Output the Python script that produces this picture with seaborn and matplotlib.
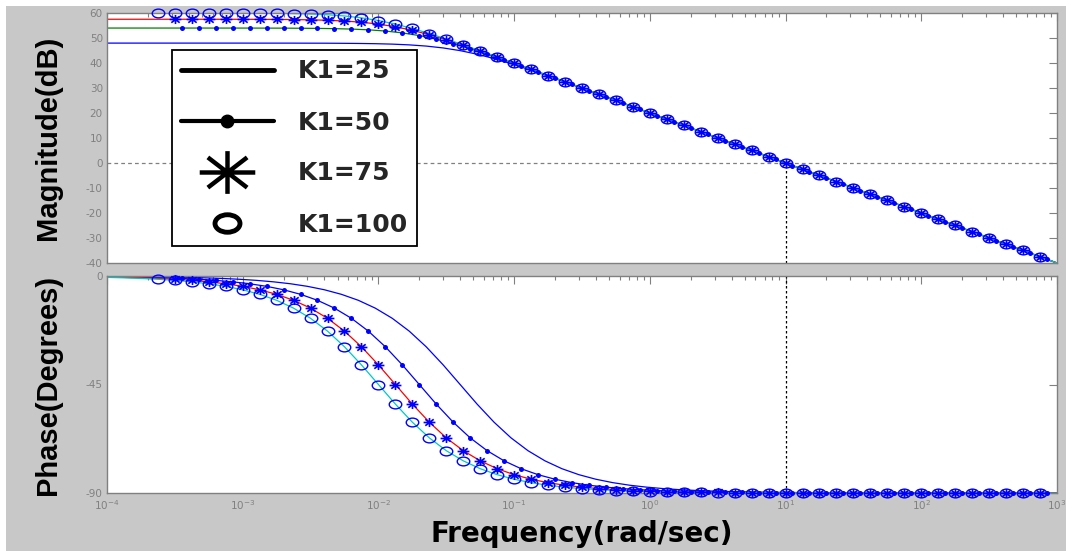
import numpy as np
import matplotlib
matplotlib.use("Agg")
import matplotlib.pyplot as plt
import seaborn as sns
from matplotlib.lines import Line2D
from matplotlib.path import Path
from matplotlib.transforms import Affine2D
from matplotlib.ticker import FixedLocator, NullFormatter, LogFormatterSciNotation
from matplotlib.patches import Rectangle

# ---------------- data ----------------
k1_labels = ["K1=25", "K1=50", "K1=75", "K1=100"]

# log10 of frequency (rad/sec) of the sampled points of each curve
log_w_k25 = [-4.023, -3.898, -3.773, -3.648, -3.523, -3.398, -3.273, -3.148, -3.023,
             -2.898, -2.773, -2.648, -2.523, -2.398, -2.273, -2.148, -2.023,
             -1.898, -1.773, -1.648, -1.523, -1.398, -1.273, -1.148, -1.023,
             -0.898, -0.773, -0.648, -0.523, -0.398, -0.273, -0.148, -0.023,
             0.102, 0.227, 0.352, 0.477, 0.602, 0.727, 0.852, 0.977,
             1.102, 1.227, 1.352, 1.477, 1.602, 1.727, 1.852, 1.977,
             2.102, 2.227, 2.352, 2.477, 2.602, 2.727, 2.852, 2.977, 3.102]
log_w_k50 = [-4.074, -3.949, -3.824, -3.699, -3.574, -3.449, -3.324, -3.199, -3.074,
             -2.949, -2.824, -2.699, -2.574, -2.449, -2.324, -2.199, -2.074,
             -1.949, -1.824, -1.699, -1.574, -1.449, -1.324, -1.199, -1.074,
             -0.949, -0.824, -0.699, -0.574, -0.449, -0.324, -0.199, -0.074,
             0.051, 0.176, 0.301, 0.426, 0.551, 0.676, 0.801, 0.926,
             1.051, 1.176, 1.301, 1.426, 1.551, 1.676, 1.801, 1.926,
             2.051, 2.176, 2.301, 2.426, 2.551, 2.676, 2.801, 2.926, 3.051]
log_w_k75_k100 = [-4.0, -3.875, -3.75, -3.625, -3.5, -3.375, -3.25, -3.125, -3.0,
                  -2.875, -2.75, -2.625, -2.5, -2.375, -2.25, -2.125, -2.0,
                  -1.875, -1.75, -1.625, -1.5, -1.375, -1.25, -1.125, -1.0,
                  -0.875, -0.75, -0.625, -0.5, -0.375, -0.25, -0.125, 0.0,
                  0.125, 0.25, 0.375, 0.5, 0.625, 0.75, 0.875, 1.0,
                  1.125, 1.25, 1.375, 1.5, 1.625, 1.75, 1.875, 2.0,
                  2.125, 2.25, 2.375, 2.5, 2.625, 2.75, 2.875, 3.0]

# magnitude (dB)
mag_k25 = [47.96, 47.96, 47.96, 47.96, 47.96, 47.96, 47.96, 47.96, 47.96,
           47.95, 47.95, 47.95, 47.93, 47.92, 47.88, 47.82, 47.72, 47.55, 47.25,
           46.77, 46.02, 44.95, 43.52, 41.77, 39.75, 37.55, 35.22, 32.82, 30.38,
           27.92, 25.43, 22.95, 20.45, 17.95, 15.46, 12.96, 10.46, 7.96, 5.46,
           2.96, 0.46, -2.04, -4.54, -7.04, -9.54, -12.04, -14.54, -17.04, -19.54,
           -22.04, -24.54, -27.04, -29.54, -32.04, -34.54, -37.04, -39.54, -42.04]
mag_k50 = [53.98, 53.98, 53.98, 53.98, 53.98, 53.98, 53.98,
           53.97, 53.97, 53.97, 53.95, 53.94, 53.90, 53.84, 53.74, 53.57, 53.27,
           52.79, 52.04, 50.97, 49.54, 47.79, 45.77, 43.57, 41.24, 38.84, 36.40,
           33.94, 31.46, 28.97, 26.47, 23.97, 21.48, 18.98, 16.48, 13.98, 11.48,
           8.98, 6.48, 3.98, 1.48, -1.02, -3.52, -6.02, -8.52, -11.02, -13.52,
           -16.02, -18.52, -21.02, -23.52, -26.02, -28.52, -31.02, -33.52, -36.02,
           -38.52, -41.02]
mag_k75 = [57.5, 57.5, 57.5, 57.5, 57.5, 57.5,
           57.49, 57.49, 57.48, 57.46, 57.42, 57.37, 57.26, 57.09, 56.79, 56.31,
           55.56, 54.49, 53.06, 51.31, 49.29, 47.09, 44.76, 42.37, 39.92, 37.46,
           34.98, 32.49, 29.99, 27.5, 25.0, 22.5, 20.0, 17.5, 15.0, 12.5, 10.0,
           7.5, 5.0, 2.5, 0.0, -2.5, -5.0, -7.5, -10.0, -12.5, -15.0, -17.5,
           -20.0, -22.5, -25.0, -27.5, -30.0, -32.5, -35.0, -37.5, -40.0]
mag_k100 = [60.0, 60.0, 60.0, 60.0, 60.0,
            59.99, 59.99, 59.98, 59.96, 59.92, 59.86, 59.76, 59.59, 59.29, 58.81,
            58.06, 56.99, 55.56, 53.81, 51.79, 49.59, 47.26, 44.86, 42.42, 39.96,
            37.48, 34.99, 32.49, 30.0, 27.5, 25.0, 22.5, 20.0, 17.5, 15.0, 12.5,
            10.0, 7.5, 5.0, 2.5, 0.0, -2.5, -5.0, -7.5, -10.0, -12.5, -15.0,
            -17.5, -20.0, -22.5, -25.0, -27.5, -30.0, -32.5, -35.0, -37.5, -40.0]

# phase (degrees)
phase_k25 = [-0.14, -0.18, -0.24, -0.32, -0.43,
             -0.57, -0.76, -1.02, -1.36, -1.81, -2.42, -3.22, -4.29, -5.71, -7.60,
             -10.08, -13.34, -17.55, -22.87, -29.36, -36.87, -45.0, -53.13, -60.64,
             -67.13, -72.45, -76.66, -79.92, -82.40, -84.29, -85.71, -86.78, -87.58,
             -88.19, -88.64, -88.98, -89.24, -89.43, -89.57, -89.68, -89.76, -89.82,
             -89.86, -89.90, -89.92, -89.94, -89.96, -89.97, -89.98, -89.98, -89.99,
             -89.99, -89.99, -89.99, -90.0, -90.0, -90.0, -90.0]
phase_k50 = [-0.24, -0.32, -0.43,
             -0.57, -0.76, -1.02, -1.36, -1.81, -2.42, -3.22, -4.29, -5.71, -7.60,
             -10.08, -13.34, -17.55, -22.87, -29.36, -36.87, -45.0, -53.13, -60.64,
             -67.13, -72.45, -76.66, -79.92, -82.40, -84.29, -85.71, -86.78, -87.58,
             -88.19, -88.64, -88.98, -89.24, -89.43, -89.57, -89.68, -89.76, -89.82,
             -89.86, -89.90, -89.92, -89.94, -89.96, -89.97, -89.98, -89.98, -89.99,
             -89.99, -89.99, -89.99, -90.0, -90.0, -90.0, -90.0, -90.0, -90.0]
phase_k75 = [-0.43,
             -0.57, -0.76, -1.02, -1.36, -1.81, -2.42, -3.22, -4.29, -5.71, -7.60,
             -10.08, -13.34, -17.55, -22.87, -29.36, -36.87, -45.0, -53.13, -60.64,
             -67.13, -72.45, -76.66, -79.92, -82.40, -84.29, -85.71, -86.78, -87.58,
             -88.19, -88.64, -88.98, -89.24, -89.43, -89.57, -89.68, -89.76, -89.82,
             -89.86, -89.90, -89.92, -89.94, -89.96, -89.97, -89.98, -89.98, -89.99,
             -89.99, -89.99, -89.99, -90.0, -90.0, -90.0, -90.0, -90.0, -90.0, -90.0]
phase_k100 = [-0.57, -0.76, -1.02, -1.36, -1.81, -2.42, -3.22, -4.29, -5.71, -7.60,
              -10.08, -13.34, -17.55, -22.87, -29.36, -36.87, -45.0, -53.13, -60.64,
              -67.13, -72.45, -76.66, -79.92, -82.40, -84.29, -85.71, -86.78, -87.58,
              -88.19, -88.64, -88.98, -89.24, -89.43, -89.57, -89.68, -89.76, -89.82,
              -89.86, -89.90, -89.92, -89.94, -89.96, -89.97, -89.98, -89.98, -89.99,
              -89.99, -89.99, -89.99, -90.0, -90.0, -90.0, -90.0, -90.0, -90.0, -90.0,
              -90.0]

mag_ticks = [-40, -30, -20, -10, 0, 10, 20, 30, 40, 50, 60]
phase_ticks = [-90, -45, 0]
freq_decades = [-4, -3, -2, -1, 0, 1, 2, 3]
minor_subs = [2, 3, 4, 5, 6, 7, 8, 9]
crossover_w = 10.0
zero_db = 0.0

# ---------------- style ----------------
sns.set_style("white")
plt.rcParams["font.family"] = ["DejaVu Sans"]
plt.rcParams["axes.unicode_minus"] = False
plt.rcParams["mathtext.default"] = "regular"

W, H = 1066, 551
GRAY = "#808080"
BLUE = "#0000ff"

fig = plt.figure(figsize=(W / 100, H / 100), dpi=100, facecolor="white")
fig.patches.append(Rectangle((6 / W, 0), 1, 1 - 6 / H, transform=fig.transFigure,
                             facecolor="#c8c8c8", edgecolor="none", zorder=-10))

ax_mag = fig.add_axes([107 / W, 1 - 263 / H, 950 / W, 250 / H])
ax_ph = fig.add_axes([107 / W, 1 - 493 / H, 950 / W, 217 / H])
for ax in (ax_mag, ax_ph):
    ax.set_xscale("log")
    ax.set_facecolor("white")

# marker shapes: horizontally widened ellipse and asterisk (as in the picture)
ellipse = Path.unit_circle().transformed(Affine2D().scale(1.0, 0.7))
_ast_verts, _ast_codes = [], []
for a in np.deg2rad([0, 45, 90, 135]):
    _ast_verts += [(-1.3 * np.cos(a), -np.sin(a)), (1.3 * np.cos(a), np.sin(a))]
    _ast_codes += [Path.MOVETO, Path.LINETO]
asterisk = Path(_ast_verts, _ast_codes)

series = [
    dict(w=log_w_k25, mag=mag_k25, ph=phase_k25, mag_color=BLUE, ph_color=BLUE,
         marker=None, sl=None),
    dict(w=log_w_k50, mag=mag_k50, ph=phase_k50, mag_color="#008000", ph_color=BLUE,
         marker=dict(marker="o", markersize=3.6, markerfacecolor=BLUE,
                     markeredgecolor=BLUE, markeredgewidth=0.0), sl=slice(5, 57)),
    dict(w=log_w_k75_k100, mag=mag_k75, ph=phase_k75, mag_color="#ff0000",
         ph_color="#ff0000",
         marker=dict(marker=asterisk, markersize=8.5, markerfacecolor="none",
                     markeredgecolor=BLUE, markeredgewidth=1.2), sl=slice(4, 56)),
    dict(w=log_w_k75_k100, mag=mag_k100, ph=phase_k100, mag_color="#00c8c8",
         ph_color="#00c8c8",
         marker=dict(marker=ellipse, markersize=9, markerfacecolor="none",
                     markeredgecolor=BLUE, markeredgewidth=1.0), sl=slice(3, 56)),
]

# reference lines
ax_mag.axhline(zero_db, color=GRAY, linestyle=(0, (3, 2.5)), linewidth=0.9, zorder=1)
ax_mag.plot([crossover_w, crossover_w], [mag_ticks[0], zero_db], color="k",
            linestyle=(0, (2, 2)), linewidth=0.9, zorder=1)
ax_ph.axvline(crossover_w, color="k", linestyle=(0, (2, 2)), linewidth=0.9, zorder=1)

# curves
for s in series:
    w = np.power(10.0, np.asarray(s["w"]))
    for ax, key, col in ((ax_mag, "mag", s["mag_color"]), (ax_ph, "ph", s["ph_color"])):
        sns.lineplot(x=w, y=np.asarray(s[key]), ax=ax, color=col, linewidth=0.9,
                     estimator=None, errorbar=None, sort=False, zorder=2)

# markers
for s in series:
    if s["marker"] is None:
        continue
    w = np.power(10.0, np.asarray(s["w"]))[s["sl"]]
    for ax, key in ((ax_mag, "mag"), (ax_ph, "ph")):
        y = np.asarray(s[key])[s["sl"]]
        sns.lineplot(x=w, y=y, ax=ax, color=BLUE, linestyle="none",
                     estimator=None, errorbar=None, sort=False, clip_on=False,
                     zorder=3, **s["marker"])

# axes formatting
major_w = [10.0 ** d for d in freq_decades]
minor_w = [m * 10.0 ** d for d in freq_decades[:-1] for m in minor_subs]
for ax in (ax_mag, ax_ph):
    ax.set_xlim(major_w[0], major_w[-1])
    ax.xaxis.set_major_locator(FixedLocator(major_w))
    ax.xaxis.set_major_formatter(LogFormatterSciNotation())
    ax.xaxis.set_minor_locator(FixedLocator(minor_w))
    ax.xaxis.set_minor_formatter(NullFormatter())
    ax.tick_params(which="both", direction="in", top=True, right=True,
                   colors=GRAY, labelsize=7.5, width=0.8)
    ax.tick_params(which="major", length=5.5, pad=3)
    ax.tick_params(which="minor", length=3)
    for sp in ax.spines.values():
        sp.set_color(GRAY)
        sp.set_linewidth(1.0)
    ax.set_xlabel("")
    ax.set_ylabel("")

ax_mag.set_ylim(mag_ticks[0], mag_ticks[-1])
ax_mag.set_yticks(mag_ticks)
ax_mag.tick_params(labelbottom=False)
ax_ph.set_ylim(phase_ticks[0], phase_ticks[-1])
ax_ph.set_yticks(phase_ticks)
ax_ph.tick_params(axis="x", which="major", pad=3.5)

lab_font = dict(family="Liberation Sans", fontweight="bold", fontsize=21, color="k")
ax_mag.set_ylabel("Magnitude(dB)", **lab_font)
ax_mag.yaxis.set_label_coords(-0.047, 0.5)
ax_ph.set_ylabel("Phase(Degrees)", **lab_font)
ax_ph.yaxis.set_label_coords(-0.047, 0.5)
ax_ph.set_xlabel("Frequency(rad/sec)", family="DejaVu Sans", fontweight="bold",
                 fontsize=20, color="k", labelpad=6)

# legend
handles = [
    Line2D([], [], color="k", linewidth=3.5),
    Line2D([], [], color="k", linewidth=3, marker="o", markersize=9,
           markerfacecolor="k", markeredgecolor="k"),
    Line2D([], [], linestyle="none", marker=asterisk, markersize=40,
           markeredgewidth=3.2, markerfacecolor="none", markeredgecolor="k"),
    Line2D([], [], linestyle="none", marker=ellipse, markersize=18,
           markeredgewidth=3.5, markerfacecolor="none", markeredgecolor="k"),
]
leg = ax_mag.legend(handles, k1_labels, loc="upper left", bbox_to_anchor=(0.068, 0.852),
                    borderaxespad=0, frameon=True, fancybox=False, framealpha=1,
                    facecolor="white", edgecolor="k",
                    prop=dict(family="DejaVu Sans", weight="bold", size=18),
                    handlelength=3.7, handletextpad=0.95, labelspacing=1.08,
                    borderpad=0.38)
leg.get_frame().set_linewidth(1.3)
leg.set_zorder(10)

fig.savefig("out.png", dpi=100, facecolor=fig.get_facecolor())
